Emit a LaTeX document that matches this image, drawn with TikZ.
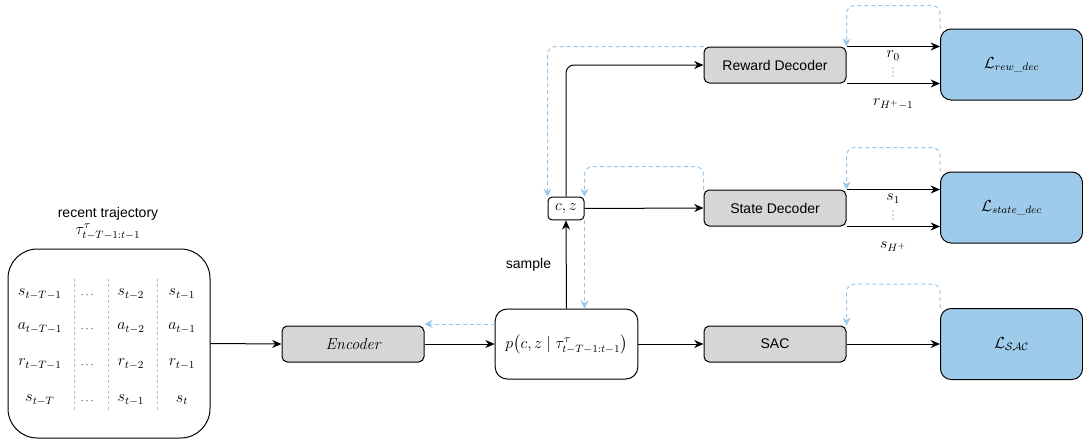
\documentclass[tikz,border=0pt]{standalone}
\usepackage{amsmath}
\usepackage{fontspec}
\setsansfont{Liberation Sans}
\usetikzlibrary{arrows.meta}
\definecolor{lossblue}{RGB}{158,203,234}
\definecolor{fbblue}{RGB}{150,200,238}
\definecolor{boxgray}{RGB}{214,214,214}

\begin{document}
\begin{tikzpicture}[x=0.75pt,y=-0.75pt,
  font=\fontsize{12}{14}\selectfont,
  every node/.style={inner sep=0pt},
  lbl/.style={font=\sffamily\fontsize{10.5}{12.6}\selectfont},
  blk/.style={lbl,draw,line width=0.75pt,fill=boxgray,rounded corners=4pt,
    minimum width=106.5pt,minimum height=27pt},
  loss/.style={draw,line width=0.75pt,fill=lossblue,rounded corners=8pt,
    minimum width=106.5pt,minimum height=53.25pt},
  flow/.style={-{Stealth[length=7pt,width=6pt]},line width=0.75pt},
  fb/.style={-{Stealth[length=6pt,width=6pt]},fbblue,line width=0.75pt,
    dash pattern=on 3pt off 2.25pt,rounded corners=6pt},
  sep/.style={fbblue,line width=0.6pt,dash pattern=on 2pt off 2pt}]
  \useasboundingbox (0,0) rectangle (1083,439);

  \node[lbl] (title) at (108,214) {recent trajectory};
  \node (tautitle) at (108,232) {$\tau^{\tau}_{t-T-1:t-1}$};
  \node[draw,line width=0.75pt,rounded corners=22pt,minimum width=151.5pt,
    minimum height=141.75pt] (traj) at (109,343.5) {};
  \foreach \y/\a/\b/\c/\n in {294/s_{t-T-1}/s_{t-2}/s_{t-1}/1,
      328/a_{t-T-1}/a_{t-2}/a_{t-1}/2,
      364/r_{t-T-1}/r_{t-2}/r_{t-1}/3,
      400/s_{t-T}/s_{t-1}/s_t/4} {
    \node (first\n) at (40,\y) {$\a$};
    \node[font=\fontsize{7}{8}\selectfont] (dots\n) at (88,\y+1) {$\cdots$};
    \node (prev\n) at (131,\y) {$\b$};
    \node (last\n) at (182,\y) {$\c$};
  }
  \draw[sep] (74,279) -- (74,410);
  \draw[sep] (108,279) -- (108,410);
  \draw[sep] (157,279) -- (157,410);

  \node[blk,font=\rmfamily\itshape\fontsize{12}{14}\selectfont] (enc) at (353,344) {Encoder};
  \node[draw,line width=0.75pt,fill=white,rounded corners=9pt,minimum width=107pt,
    minimum height=52.5pt] (post) at (566.5,344)
    {$p\big(c, z \mid \tau^{\tau}_{t-T-1:t-1}\big)$};
  \node[draw,line width=0.75pt,rounded corners=3pt,minimum width=27pt,
    minimum height=17pt] (cz) at (566,208.5) {$c, z$};

  \node[blk] (rew) at (775,65) {Reward Decoder};
  \node[blk] (state) at (775,208) {State Decoder};
  \node[blk] (sac) at (775,344) {SAC};
  \node[loss] (Lrew) at (1011.5,64.5) {$\mathcal{L}_{rew\_dec}$};
  \node[loss] (Lstate) at (1011.5,207.5) {$\mathcal{L}_{state\_dec}$};
  \node[loss] (Lsac) at (1011.5,344) {$\mathcal{L}_{\mathcal{SAC}}$};

  \draw[flow] (traj.east) -- (enc.west);
  \draw[flow] (enc.east) -- (post.west);
  \draw[flow] (post.east) -- (sac.west);
  \draw[flow] (sac.east) -- (Lsac.west);
  \draw[flow] (post.north) -- node[lbl,left=11pt] (smp) {sample} (cz.south);
  \draw[flow] (cz.east) -- (state.west);
  \draw[flow,rounded corners=6pt] (cz.north) |- (rew.west);

  \draw[flow] (rew.north east) -- node[below=3pt] (r0) {$r_0$} (rew.north east -| Lrew.west);
  \draw[flow] (rew.south east) -- node[below=11pt] (rH) {$r_{H^+-1}$} (rew.south east -| Lrew.west);
  \draw[flow] (state.north east) -- node[below=3pt] (s1) {$s_1$} (state.north east -| Lstate.west);
  \draw[flow] (state.south east) -- node[below=11pt] (sH) {$s_{H^+}$} (state.south east -| Lstate.west);
  \foreach \y in {68,72,76,211,215,219}
    \fill[black!65] (893,\y) circle (0.55pt);

  \draw[fb] (Lrew.north west) -- ++(0,-23) -| (rew.north east);
  \draw[fb] (Lstate.north west) -- ++(0,-24) -| (state.north east);
  \draw[fb] (Lsac.north west) -- ++(0,-24) -| (sac.north east);
  \draw[fb] (rew.north west) -| (cz.north west);
  \draw[fb] (state.north west) -- ++(0,-23) -| (cz.north east);
  \draw[fb] (cz.south east) -- (cz.south east |- post.north);
  \draw[fb] ([yshift=15pt]post.west) -- ([yshift=15pt]post.west -| enc.east);
\end{tikzpicture}
\end{document}
